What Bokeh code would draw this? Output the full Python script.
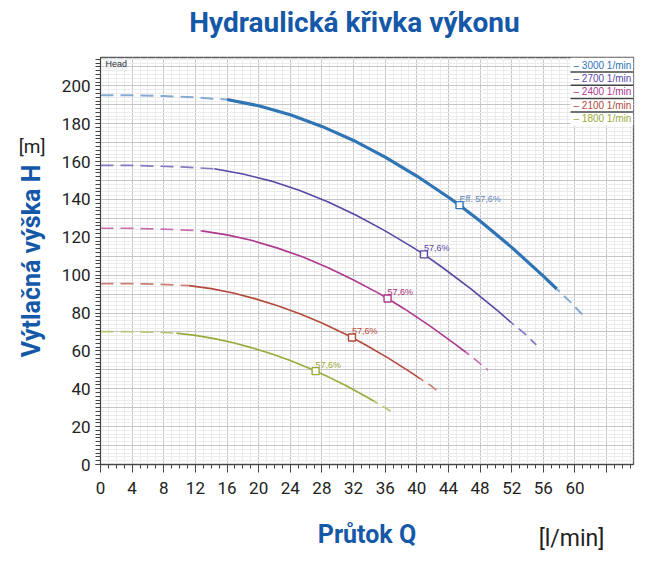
from bokeh.core.properties import value
from bokeh.embed import file_html
from bokeh.models import (ColumnDataSource, CustomJSTickFormatter, FixedTicker, Label,
                          LabelSet, LinearAxis, Range1d, SingleIntervalTicker)
from bokeh.plotting import figure
from bokeh.resources import INLINE

# ---- data: pump head H [m] against flow Q [l/min] at five speeds ----
speeds = [3000, 2700, 2400, 2100, 1800]

# 3000 1/min
q_head_3000 = [0, 4, 8, 12, 16]
h_head_3000 = [195.0, 195.0, 194.6, 193.9, 192.8]
q_main_3000 = [16, 20, 24, 28, 32, 36, 40, 44, 45.4, 48, 52, 56, 57.7]
h_main_3000 = [192.8, 189.5, 184.8, 178.6, 171.2, 162.4, 152.4, 141.2, 137.0, 128.6, 114.7, 99.5, 92.7]
q_tail_3000 = [57.7, 59.5, 61.2]
h_tail_3000 = [92.7, 85.5, 78.0]

# 2700 1/min
q_head_2700 = [0, 3.6, 7.2, 10.8, 14.4]
h_head_2700 = [158.0, 158.0, 157.6, 157.1, 156.2]
q_main_2700 = [14.4, 18, 21.6, 25.2, 28.8, 32.4, 36, 39.6, 40.9, 43.2, 46.8, 50.4, 51.9]
h_main_2700 = [156.2, 153.5, 149.7, 144.7, 138.7, 131.5, 123.4, 114.4, 111.0, 104.2, 92.9, 80.6, 75.1]
q_tail_2700 = [51.9, 53.6, 55.1]
h_tail_2700 = [75.1, 69.3, 63.2]

# 2400 1/min
q_head_2400 = [0, 3.2, 6.4, 9.6, 12.8]
h_head_2400 = [124.8, 124.8, 124.5, 124.1, 123.4]
q_main_2400 = [12.8, 16, 19.2, 22.4, 25.6, 28.8, 32, 35.2, 36.3, 38.4, 41.6, 44.8, 46.2]
h_main_2400 = [123.4, 121.3, 118.3, 114.3, 109.6, 103.9, 97.5, 90.4, 87.7, 82.3, 73.4, 63.7, 59.3]
q_tail_2400 = [46.2, 47.6, 49.0]
h_tail_2400 = [59.3, 54.7, 49.9]

# 2100 1/min
q_head_2100 = [0, 2.8, 5.6, 8.4, 11.2]
h_head_2100 = [95.6, 95.6, 95.4, 95.0, 94.5]
q_main_2100 = [11.2, 14, 16.8, 19.6, 22.4, 25.2, 28, 30.8, 31.8, 33.6, 36.4, 39.2, 40.4]
h_main_2100 = [94.5, 92.9, 90.6, 87.5, 83.9, 79.6, 74.7, 69.2, 67.1, 63.0, 56.2, 48.8, 45.4]
q_tail_2100 = [40.4, 41.7, 42.8]
h_tail_2100 = [45.4, 41.9, 38.2]

# 1800 1/min
q_head_1800 = [0, 2.4, 4.8, 7.2, 9.6]
h_head_1800 = [70.2, 70.2, 70.1, 69.8, 69.4]
q_main_1800 = [9.6, 12, 14.4, 16.8, 19.2, 21.6, 24, 26.4, 27.2, 28.8, 31.2, 33.6, 34.6]
h_main_1800 = [69.4, 68.2, 66.5, 64.3, 61.6, 58.5, 54.9, 50.8, 49.3, 46.3, 41.3, 35.8, 33.4]
q_tail_1800 = [34.6, 35.7, 36.7]
h_tail_1800 = [33.4, 30.7, 28.1]

# best-efficiency points
eff_q = [45.4, 40.9, 36.3, 31.8, 27.2]
eff_h = [137.0, 111.0, 87.7, 67.1, 49.3]
eff_text = ["Eff. 57,6%", "57,6%", "57,6%", "57,6%", "57,6%"]

legend_text = [f"\u2013 {s} 1/min" for s in speeds]
title_text = "Hydraulická křivka výkonu"

# ---- styling ----
line_colors = ["#2f74b5", "#5b46a6", "#b0388f", "#b34a3c", "#9aaa3c"]
dash_colors = ["#86abd3", "#8677c0", "#c96fb0", "#c97e74", "#b9c572"]
label_colors = ["#5a86c2", "#5b46a6", "#a8307e", "#b34a3c", "#98a83a"]
main_widths = [3.2, 1.6, 1.6, 1.6, 1.6]
BLUE = "#1558a8"

W, H = 655, 572
LEFT, RIGHT, TOP, BOTTOM = 100, 22, 57, 108
X_MAX, Y_MAX = 67.4, 215.0
FRAME_W = W - LEFT - RIGHT
FRAME_H = H - TOP - BOTTOM


def px_x(px):
    return (px - LEFT) / FRAME_W * X_MAX


def px_y(py):
    return (TOP + FRAME_H - py) / FRAME_H * Y_MAX


p = figure(
    width=W, height=H,
    x_range=Range1d(0, X_MAX), y_range=Range1d(0, Y_MAX),
    output_backend="svg", toolbar_location=None,
    min_border_left=LEFT, min_border_right=RIGHT,
    min_border_top=TOP, min_border_bottom=BOTTOM,
    background_fill_color="white", border_fill_color="white",
)
p.outline_line_color = "#5a5a5a"
p.outline_line_width = 1.3
p.title.text = ""
p.title.standoff = 0

xa = p.below[0]
ya = p.left[0]


def caption_axis(text, tick, standoff, size, color, bold=False):
    """A bare axis whose single tick label carries a free-standing caption."""
    return LinearAxis(
        ticker=FixedTicker(ticks=[tick]),
        formatter=CustomJSTickFormatter(code="return %r" % text),
        axis_line_color=None, major_tick_line_color=None, minor_tick_line_color=None,
        major_tick_out=0, minor_tick_out=0, major_tick_in=0, minor_tick_in=0,
        major_label_standoff=standoff,
        major_label_text_font="Roboto", major_label_text_font_size=size,
        major_label_text_font_style="bold" if bold else "normal",
        major_label_text_color=color,
    )


# axes
xa.ticker = SingleIntervalTicker(interval=4, num_minor_ticks=4)
ya.ticker = SingleIntervalTicker(interval=20, num_minor_ticks=10)
xa.major_label_overrides = {64: ""}
for ax in (xa, ya):
    ax.axis_line_color = "#444444"
    ax.major_tick_line_color = "#444444"
    ax.minor_tick_line_color = "#444444"
    ax.major_tick_in = 0
    ax.minor_tick_in = 0
    ax.major_label_text_font = "Roboto"
    ax.major_label_text_font_size = "17px"
    ax.major_label_text_color = "#222222"
    ax.axis_label_text_font = "Roboto"
    ax.axis_label_text_font_style = "bold"
    ax.axis_label_text_font_size = "25px"
    ax.axis_label_text_color = BLUE
xa.major_tick_out = 8
xa.minor_tick_out = 4
xa.major_label_standoff = 9
xa.axis_label = "Průtok Q"
xa.axis_label_standoff = 23
ya.major_tick_out = 5
ya.minor_tick_out = 5
ya.major_label_standoff = 5
ya.axis_label = "Výtlačná výška H"
ya.axis_label_standoff = 13

# chart heading and unit captions
p.add_layout(caption_axis(title_text, px_x(354), 19, "28px", BLUE, bold=True), "above")
p.add_layout(caption_axis("[l/min]", px_x(571), -27, "23px", "#222222"), "below")
p.add_layout(caption_axis("[m]", px_y(146), -32, "19px", "#222222"), "left")

# grid
p.xgrid.ticker = SingleIntervalTicker(interval=4, num_minor_ticks=4)
p.ygrid.ticker = SingleIntervalTicker(interval=10, num_minor_ticks=5)
for g in (p.xgrid, p.ygrid):
    g.grid_line_color = "#c6c6c6"
    g.grid_line_width = 1
    g.minor_grid_line_color = "#ebebeb"
    g.minor_grid_line_width = 1

# curves
curves = {
    3000: (q_head_3000, h_head_3000, q_main_3000, h_main_3000, q_tail_3000, h_tail_3000),
    2700: (q_head_2700, h_head_2700, q_main_2700, h_main_2700, q_tail_2700, h_tail_2700),
    2400: (q_head_2400, h_head_2400, q_main_2400, h_main_2400, q_tail_2400, h_tail_2400),
    2100: (q_head_2100, h_head_2100, q_main_2100, h_main_2100, q_tail_2100, h_tail_2100),
    1800: (q_head_1800, h_head_1800, q_main_1800, h_main_1800, q_tail_1800, h_tail_1800),
}
for i, s in enumerate(speeds):
    qh, hh, qm, hm, qt, ht = curves[s]
    dw = 2.0 if i == 0 else 1.7
    p.line(qh, hh, line_color=dash_colors[i], line_width=dw, line_dash="13 7")
    p.line(qm, hm, line_color=line_colors[i], line_width=main_widths[i])
    p.line(qt, ht, line_color=dash_colors[i], line_width=dw, line_dash="10 6",
           line_dash_offset=6)

# efficiency markers and labels
eff_src = ColumnDataSource(dict(q=eff_q, h=eff_h, t=eff_text,
                                lc=line_colors, tc=label_colors))
p.scatter("q", "h", source=eff_src, marker="square", size=7,
          fill_color="white", line_color="lc", line_width=1.4)
p.add_layout(LabelSet(x="q", y="h", text="t", source=eff_src,
                      x_offset=0, y_offset=6, text_color="tc",
                      text_font=value("Liberation Sans"), text_font_size="9px",
                      text_baseline="middle", text_align="left"))

# "Head" tag in the corner
p.add_layout(Label(x=px_x(105), y=px_y(63.5), text="Head", text_font="Liberation Sans",
                   text_font_size="9px", text_color="#333333", text_baseline="middle",
                   background_fill_color="#eef2f8", background_fill_alpha=0.9))

# legend block, top right
lg_left, lg_right = px_x(570), px_x(633)
lg_top, lg_bottom = Y_MAX, px_y(125)
p.quad(left=[lg_left], right=[lg_right], top=[lg_top], bottom=[lg_bottom],
       fill_color="white", line_color=None)
row_y = [px_y(65 + 13.2 * k) for k in range(len(speeds))]
sep_y = [px_y(71.5 + 13.3 * k) for k in range(len(speeds) - 1)]
p.segment(x0=[lg_left] * len(sep_y), x1=[lg_right] * len(sep_y), y0=sep_y, y1=sep_y,
          line_color="#444444", line_width=1.5)
p.text(x=[px_x(573)] * len(speeds), y=row_y, text=legend_text, text_color=line_colors,
       text_font=value("Liberation Sans"), text_font_size="10px",
       text_baseline="middle", text_align="left")

open("out.html", "w").write(file_html(p, INLINE))
